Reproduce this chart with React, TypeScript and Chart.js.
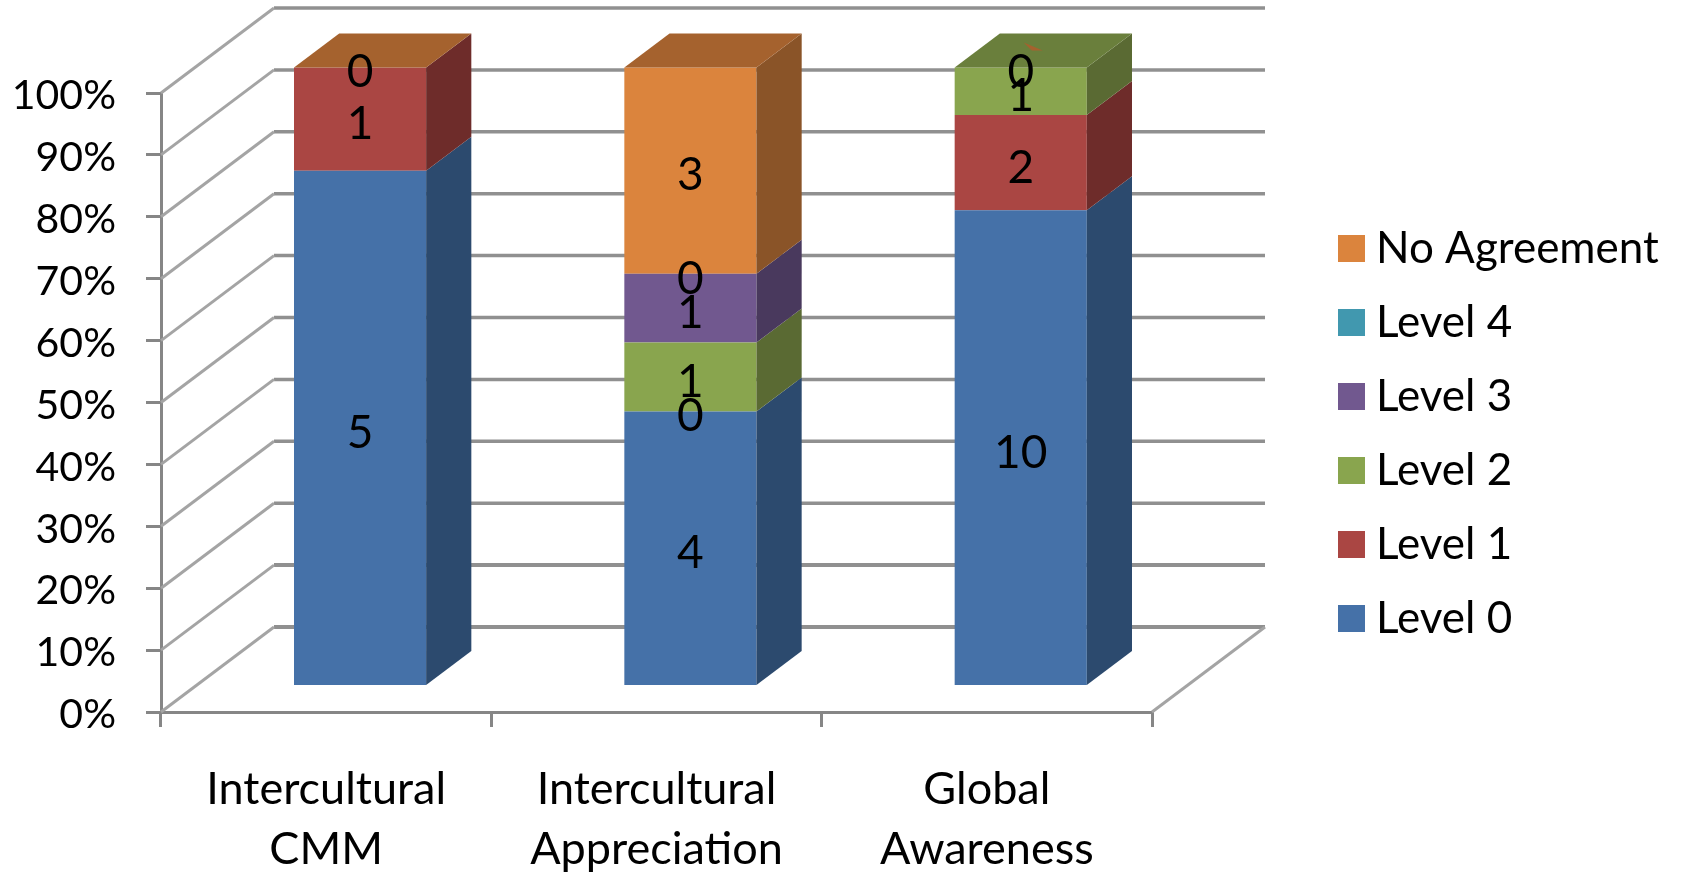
import React, { useEffect, useRef } from "react";
import { Chart, registerables } from "chart.js";

Chart.register(...registerables);

// Category labels, wrapped over two lines
const categories = [
  ["Intercultural", "CMM"],
  ["Intercultural", "Appreciation"],
  ["Global", "Awareness"],
];

// Counts per level; null means the level has no entry for that competency
const level0 = [5, 4, 10];
const level1 = [1, 0, 2];
const level2 = [null, 1, 1];
const level3 = [null, 1, 0];
const level4 = [null, 0, null];
const noAgreement = [0, 3, null];

const seriesNames = ["Level 0", "Level 1", "Level 2", "Level 3", "Level 4", "No Agreement"];
const seriesCounts = [level0, level1, level2, level3, level4, noAgreement];

const frontColors = ["#4571A8", "#AA4643", "#89A54E", "#71588F", "#4198AF", "#DB843D"];
const sideColors = ["#2C4A6E", "#6E2C2A", "#5A6A33", "#49395D", "#2A6372", "#8A5428"];
const topColors = ["#365A87", "#873836", "#6A7F3C", "#5A4672", "#34788B", "#A5622E"];

// Which series colours the lid of each column
const lidSeries = [5, 5, 2];

const percentTicks = [0, 10, 20, 30, 40, 50, 60, 70, 80, 90, 100];

const totals = categories.map((_, c) =>
  seriesCounts.reduce((sum, s) => sum + (s[c] ?? 0), 0)
);
const shares = (counts: (number | null)[]) =>
  counts.map((v, c) => (v === null ? null : (v / totals[c]) * 100));

// Oblique projection of the plot box
const WALL_DX = 113;
const WALL_DY = -85;
const COLUMN_NEAR = 0.3;
const COLUMN_DEPTH = 0.4;
const GRID = "#909090";
const AXIS = "#868686";

const projection = {
  id: "projection",
  beforeDraw(chart: any) {
    // Park the legend beside the back wall, clear of the plot box
    const legend = chart.legend;
    legend.left = 1319;
    legend.right = 1684;
    legend.top = 0;
    legend.bottom = 867;
  },
  beforeDatasetsDraw(chart: any) {
    const { ctx, chartArea, scales } = chart;
    const { left, right, bottom } = chartArea;
    const y = scales.y;
    ctx.save();
    ctx.lineCap = "butt";
    for (const t of percentTicks) {
      const py = y.getPixelForValue(t);
      ctx.strokeStyle = GRID;
      ctx.lineWidth = t <= 10 ? 4 : 3.5;
      ctx.beginPath();
      ctx.moveTo(left + WALL_DX, py + WALL_DY);
      ctx.lineTo(right + WALL_DX, py + WALL_DY);
      ctx.stroke();
      ctx.strokeStyle = "#a4a4a4";
      ctx.lineWidth = 3;
      ctx.beginPath();
      ctx.moveTo(left, py);
      ctx.lineTo(left + WALL_DX, py + WALL_DY);
      ctx.stroke();
    }
    ctx.beginPath();
    ctx.moveTo(right, bottom);
    ctx.lineTo(right + WALL_DX, bottom + WALL_DY);
    ctx.stroke();
    ctx.restore();

    // Columns stand part-way into the box; this is undone after the labels
    ctx.save();
    ctx.translate(WALL_DX * COLUMN_NEAR, WALL_DY * COLUMN_NEAR);
  },
  afterDatasetsDraw(chart: any) {
    const { ctx } = chart;
    const dx = WALL_DX * COLUMN_DEPTH;
    const dy = WALL_DY * COLUMN_DEPTH;

    seriesCounts.forEach((_, s) => {
      const meta = chart.getDatasetMeta(s);
      meta.data.forEach((bar: any, c: number) => {
        if (seriesCounts[s][c] === null) return;
        const { x, y, base, width } = bar.getProps(["x", "y", "base", "width"], true);
        const edge = x + width / 2;
        if (base - y > 0) {
          ctx.fillStyle = sideColors[s];
          ctx.beginPath();
          ctx.moveTo(edge, y);
          ctx.lineTo(edge + dx, y + dy);
          ctx.lineTo(edge + dx, base + dy);
          ctx.lineTo(edge, base);
          ctx.closePath();
          ctx.fill();
        }
        if (lidSeries[c] === s) {
          const topY = chart.scales.y.getPixelForValue(100);
          ctx.fillStyle = topColors[s];
          ctx.beginPath();
          ctx.moveTo(x - width / 2, topY);
          ctx.lineTo(x - width / 2 + dx, topY + dy);
          ctx.lineTo(edge + dx, topY + dy);
          ctx.lineTo(edge, topY);
          ctx.closePath();
          ctx.fill();
          // A sliver of the empty top level shows through the green lid
          if (c === 2) {
            ctx.fillStyle = topColors[5];
            ctx.beginPath();
            ctx.moveTo(x + 3, topY - 25);
            ctx.lineTo(x + 22, topY - 17);
            ctx.lineTo(x + 11, topY - 17);
            ctx.closePath();
            ctx.fill();
          }
        }
      });
    });

    // Count labels at the middle of each segment
    ctx.fillStyle = "#000";
    ctx.font = "46px Lato";
    ctx.textAlign = "center";
    ctx.textBaseline = "middle";
    seriesCounts.forEach((counts, s) => {
      const meta = chart.getDatasetMeta(s);
      meta.data.forEach((bar: any, c: number) => {
        const v = counts[c];
        if (v === null) return;
        const { x, y, base } = bar.getProps(["x", "y", "base"], true);
        ctx.fillText(String(v), x, (y + base) / 2 + 5);
      });
    });
    ctx.restore();
  },
};

export default function App() {
  const ref = useRef<HTMLCanvasElement>(null);

  useEffect(() => {
    const chart = new Chart(ref.current!, {
      type: "bar",
      data: {
        labels: categories,
        datasets: seriesNames.map((name, s) => ({
          label: name,
          data: shares(seriesCounts[s]),
          backgroundColor: frontColors[s],
          borderWidth: 0,
          barPercentage: 0.4,
          categoryPercentage: 1,
          clip: false as any,
        })),
      },
      plugins: [projection],
      options: {
        responsive: false,
        animation: false,
        devicePixelRatio: 1,
        layout: { padding: { top: 93, right: 192, bottom: 0, left: 0 } },
        scales: {
          x: {
            stacked: true,
            afterFit: (s: any) => {
              s.height = 160;
            },
            border: { color: AXIS, width: 3 },
            grid: { color: AXIS, lineWidth: 3, drawOnChartArea: false, drawTicks: true, tickLength: 15 },
            ticks: {
              color: "#000",
              padding: 33,
              maxRotation: 0,
              autoSkip: false,
              font: { family: "Lato", size: 45, lineHeight: 1.33 },
            },
          },
          y: {
            stacked: true,
            min: 0,
            max: 100,
            afterFit: (s: any) => {
              s.width = 161;
            },
            border: { color: AXIS, width: 3 },
            grid: { color: AXIS, lineWidth: 3, drawOnChartArea: false, drawTicks: true, tickLength: 15 },
            ticks: {
              stepSize: 10,
              color: "#000",
              padding: 30,
              labelOffset: 3,
              callback: (v: any) => `${v}%`,
              font: { family: "Lato", size: 41 },
            },
          },
        },
        plugins: {
          tooltip: { enabled: false },
          legend: {
            position: "right",
            maxWidth: 340,
            reverse: true,
            labels: {
              color: "#000",
              boxWidth: 5,
              boxHeight: 5,
              padding: 30,
              font: { family: "Lato", size: 44 },
              // A thick outline in the fill colour sets the swatch size apart from the text gap
              generateLabels: (c: any) =>
                Chart.defaults.plugins.legend.labels.generateLabels(c).map((item: any) => ({
                  ...item,
                  lineWidth: 22,
                  strokeStyle: item.fillStyle,
                  lineJoin: "miter",
                })),
            },
          },
        },
      },
    });
    return () => chart.destroy();
  }, []);

  return (
    <div style={{ position: "absolute", left: 0, top: 0, width: 1684, height: 872, overflow: "hidden", background: "#fff" }}>
      <canvas ref={ref} width={1684} height={872} style={{ display: "block" }} />
    </div>
  );
}
